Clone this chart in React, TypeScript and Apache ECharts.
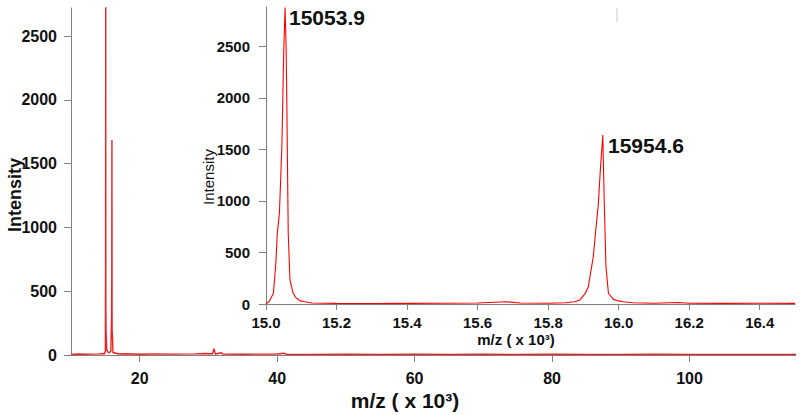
import React, { useEffect, useRef } from "react";
import * as echarts from "echarts";

// Full-range spectrum (m/z in thousands, intensity)
const mainMz = [10.0, 11.0, 12.0, 13.0, 14.0, 14.8, 14.9, 15.0, 15.03, 15.054, 15.07, 15.1, 15.2, 15.5, 15.8, 15.9, 15.93, 15.955, 15.98, 16.05, 16.1, 17.0, 18.0, 20.0, 22.0, 25.0, 28.0, 29.5, 30.6, 30.8, 31.0, 31.9, 32.1, 35.0, 40.0, 41.0, 41.3, 45.0, 50.0, 55.0, 60.0, 65.0, 70.0, 75.0, 80.0, 85.0, 90.0, 95.0, 100.0, 105.0, 110.0, 115.5];
const mainIntensity = [5, 8, 6, 7, 9, 12, 10, 30, 700, 2880, 400, 180, 40, 15, 30, 300, 575, 1685, 200, 130, 20, 8, 10, 6, 8, 7, 9, 12, 10, 50, 8, 18, 8, 6, 8, 14, 6, 5, 6, 5, 6, 5, 6, 5, 6, 5, 5, 6, 5, 5, 5, 5];

// Inset zoom spectrum
const insetMz = [15.0, 15.01, 15.021, 15.028, 15.032, 15.038, 15.045, 15.05, 15.054, 15.057, 15.059, 15.063, 15.068, 15.077, 15.085, 15.097, 15.11, 15.13, 15.2, 15.3, 15.4, 15.5, 15.6, 15.68, 15.72, 15.8, 15.85, 15.875, 15.89, 15.905, 15.914, 15.928, 15.936, 15.9425, 15.948, 15.955, 15.959, 15.964, 15.971, 15.985, 16.0, 16.013, 16.04, 16.1, 16.17, 16.2, 16.3, 16.4, 16.5];
const insetIntensity = [0, 30, 104, 400, 685, 879, 1524, 2400, 2875, 2500, 1977, 685, 232, 104, 60, 30, 22, 10, 6, 5, 6, 8, 10, 22, 10, 8, 12, 22, 39, 100, 168, 458, 749, 976, 1300, 1638, 1008, 362, 104, 45, 30, 22, 12, 8, 15, 8, 6, 7, 6];

const mainXTicks = [20, 40, 60, 80, 100];
const yTicks = [0, 500, 1000, 1500, 2000, 2500];
const insetXTicks = [15.0, 15.2, 15.4, 15.6, 15.8, 16.0, 16.2, 16.4];

const peakLabels = ["15053.9", "15954.6"];

const FONT = "'Liberation Sans', Arial, sans-serif";

export default function App() {
  const ref = useRef<HTMLDivElement>(null);
  useEffect(() => {
    if (!ref.current) return;
    const chart = echarts.init(ref.current, null, { renderer: "svg" });
    const axisLine = { show: true, lineStyle: { color: "#808080", width: 1 } };
    const axisTick = (vals: number[]) => ({ show: true, length: 7, customValues: vals, lineStyle: { color: "#808080" } });
    const label = (size: number, margin: number, vals: number[], fmt?: (v: number) => string) => ({
      color: "#111",
      fontSize: size,
      fontWeight: "bold",
      fontFamily: FONT,
      margin,
      customValues: vals,
      formatter: fmt,
    });
    chart.setOption({
      animation: false,
      grid: [
        { left: 71, top: 8, right: 4, bottom: 60, containLabel: false },
        { left: 266, top: 7, right: 5, bottom: 111, containLabel: false },
      ],
      xAxis: [
        {
          type: "value", gridIndex: 0, min: 10, max: 115.5,
          axisLine, axisTick: axisTick(mainXTicks), splitLine: { show: false },
          axisLabel: label(16, 15, mainXTicks, (v: number) => String(v)),
        },
        {
          type: "value", gridIndex: 1, min: 15.0, max: 16.5,
          axisLine, axisTick: { ...axisTick(insetXTicks), length: 6 }, splitLine: { show: false },
          axisLabel: label(15, 11, insetXTicks, (v: number) => v.toFixed(1)),
        },
      ],
      yAxis: [
        {
          type: "value", gridIndex: 0, min: 0, max: 2720,
          axisLine, axisTick: axisTick(yTicks), splitLine: { show: false },
          axisLabel: label(16, 14, yTicks, (v: number) => String(v)),
        },
        {
          type: "value", gridIndex: 1, min: 0, max: 2880,
          axisLine, axisTick: axisTick(yTicks), splitLine: { show: false },
          axisLabel: label(15, 16, yTicks, (v: number) => String(v)),
        },
      ],
      series: [
        {
          type: "line", xAxisIndex: 0, yAxisIndex: 0, showSymbol: false,
          data: mainMz.map((m, i) => [m, mainIntensity[i]]),
          lineStyle: { color: "#ee2222", width: 1.4 },
          clip: true,
        },
        {
          type: "line", xAxisIndex: 1, yAxisIndex: 1, showSymbol: false,
          data: insetMz.map((m, i) => [m, insetIntensity[i]]),
          lineStyle: { color: "#ff0000", width: 1.1 },
          clip: true,
        },
      ],
      graphic: [
        {
          type: "text", x: 15, y: 195, rotation: Math.PI / 2,
          style: { text: "Intensity", fontSize: 18, fontWeight: "bold", fontFamily: FONT, fill: "#111", align: "center", verticalAlign: "middle" },
        },
        {
          type: "text", x: 405, y: 400,
          style: { text: "m/z ( x 10³)", fontSize: 21, fontWeight: "bold", fontFamily: FONT, fill: "#111", align: "center", verticalAlign: "middle" },
        },
        {
          type: "text", x: 208, y: 177, rotation: Math.PI / 2,
          style: { text: "Intensity", fontSize: 15, fontWeight: "normal", fontFamily: FONT, fill: "#111", align: "center", verticalAlign: "middle" },
        },
        {
          type: "text", x: 516, y: 339,
          style: { text: "m/z ( x 10³)", fontSize: 15, fontWeight: "bold", fontFamily: FONT, fill: "#111", align: "center", verticalAlign: "middle" },
        },
        {
          type: "text", x: 289, y: 17,
          style: { text: peakLabels[0], fontSize: 21, fontWeight: "bold", fontFamily: FONT, fill: "#111", align: "left", verticalAlign: "middle" },
        },
        {
          type: "text", x: 608, y: 145,
          style: { text: peakLabels[1], fontSize: 21, fontWeight: "bold", fontFamily: FONT, fill: "#111", align: "left", verticalAlign: "middle" },
        },
        {
          type: "line", shape: { x1: 617, y1: 8, x2: 617, y2: 22 },
          style: { stroke: "#e4e4e4", lineWidth: 2 },
        },
      ],
    });
    return () => chart.dispose();
  }, []);
  return <div ref={ref} style={{ position: "fixed", left: 0, top: 0, width: 800, height: 415, background: "#fff" }} />;
}
